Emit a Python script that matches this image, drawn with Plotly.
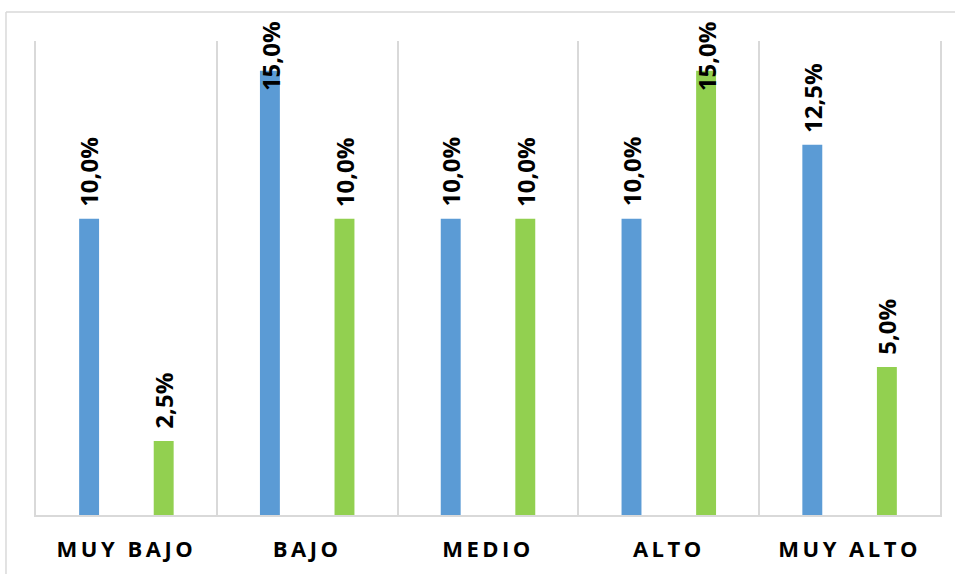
"""Grouped bar chart: two series by level, vertical value labels."""

import plotly.graph_objects as go

categories = ["MUY BAJO", "BAJO", "MEDIO", "ALTO", "MUY ALTO"]
serie_azul = [10.0, 15.0, 10.0, 10.0, 12.5]
serie_verde = [2.5, 10.0, 10.0, 15.0, 5.0]

Y_MAX = 16
BARGAP = 0.175
GRID = "#D9D9D9"
FONT = "Open Sans"


def fmt(v):
    return f"{v:.1f}".replace(".", ",") + "%"


fig = go.Figure()
for vals, color in [(serie_azul, "#5B9BD5"), (serie_verde, "#92D050")]:
    fig.add_trace(go.Bar(
        x=categories,
        y=vals,
        marker_color=color,
        marker_line_width=0,
        showlegend=False,
        hoverinfo="skip",
    ))

# value labels, rotated, above each bar (kept inside the chart at the top)
half = (1 - BARGAP) / 4
annotations = []
for sign, vals in [(-1, serie_azul), (1, serie_verde)]:
    for i, v in enumerate(vals):
        annotations.append(dict(
            x=i + sign * half,
            y=min(v, Y_MAX - 2.1),
            xref="x",
            yref="y",
            text=f"<b>{fmt(v)}</b>",
            textangle=-90,
            showarrow=False,
            yanchor="bottom",
            yshift=10,
            font=dict(family=FONT, size=24, color="#000000"),
        ))

# chart-area border (top and left visible)
shapes = [
    dict(type="line", xref="paper", yref="paper", x0=-0.0332, x1=1.2,
         y0=1.0612, y1=1.0612, line=dict(color=GRID, width=1.5)),
    dict(type="line", xref="paper", yref="paper", x0=-0.0332, x1=-0.0332,
         y0=1.0612, y1=-0.3, line=dict(color=GRID, width=1.5)),
]

fig.update_layout(
    width=955,
    height=574,
    margin=dict(l=36, r=15, t=41, b=59),
    barmode="group",
    bargap=BARGAP,
    bargroupgap=0.733,
    plot_bgcolor="#FFFFFF",
    paper_bgcolor="#FFFFFF",
    font=dict(family=FONT, color="#000000"),
    annotations=annotations,
    shapes=shapes,
    xaxis=dict(
        type="category",
        range=[-0.5, 4.5],
        tickson="boundaries",
        showgrid=True,
        gridcolor=GRID,
        gridwidth=1.5,
        showline=True,
        linecolor=GRID,
        linewidth=1.5,
        ticks="",
        tickmode="array",
        tickvals=categories,
        ticktext=[f'<span style="letter-spacing:3.5px"><b>{c}</b></span>' for c in categories],
        tickfont=dict(family=FONT, size=22, color="#000000"),
        ticklabelstandoff=14,
    ),
    yaxis=dict(
        range=[0, Y_MAX],
        showgrid=False,
        zeroline=False,
        showticklabels=False,
        showline=True,
        mirror=True,
        linecolor=GRID,
        linewidth=1.5,
    ),
)

fig.write_html(
    "out.html",
    config={"displayModeBar": False},
    post_script="document.body.style.margin = '0';",
)
